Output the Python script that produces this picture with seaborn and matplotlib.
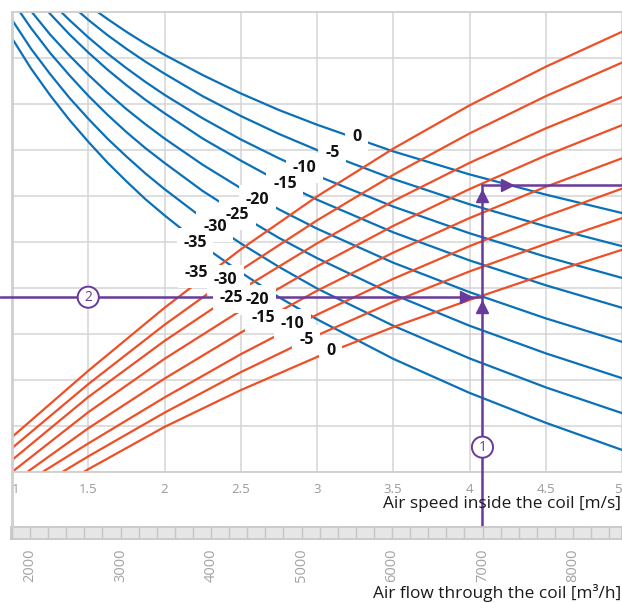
import numpy as np
import pandas as pd
import matplotlib
matplotlib.use("Agg")
import matplotlib.pyplot as plt
import seaborn as sns
from matplotlib.lines import Line2D

# ---- blue family (decreasing curves), read at these air speeds [m/s]
blue_speed = [1.0, 1.125, 1.25, 1.375, 1.5, 1.625, 1.75, 1.875, 2.0, 2.25, 2.5, 2.75,
              3.0, 3.5, 4.0, 4.5, 5.0]
blue_temps = [0, -5, -10, -15, -20, -25, -30, -35]
blue_0 = [11.67, 11.23, 10.83, 10.48, 10.15, 9.85, 9.57, 9.31, 9.07, 8.63, 8.23, 7.87,
          7.55, 6.97, 6.47, 6.03, 5.63]
blue_m5 = [11.49, 11.01, 10.58, 10.19, 9.83, 9.50, 9.20, 8.92, 8.66, 8.17, 7.74, 7.35,
           7.00, 6.37, 5.82, 5.34, 4.91]
blue_m10 = [11.21, 10.70, 10.24, 9.83, 9.45, 9.10, 8.78, 8.48, 8.20, 7.69, 7.23, 6.82,
            6.44, 5.77, 5.19, 4.68, 4.22]
blue_m15 = [10.99, 10.45, 9.96, 9.52, 9.12, 8.75, 8.41, 8.09, 7.80, 7.25, 6.77, 6.32,
            5.92, 5.21, 4.60, 4.06, 3.57]
blue_m20 = [10.59, 10.02, 9.51, 9.06, 8.64, 8.25, 7.89, 7.56, 7.25, 6.68, 6.17, 5.71,
            5.29, 4.55, 3.91, 3.34, 2.83]
blue_m25 = [10.25, 9.65, 9.11, 8.63, 8.18, 7.77, 7.39, 7.04, 6.72, 6.11, 5.58, 5.09,
            4.65, 3.86, 3.18, 2.58, 2.04]
blue_m30 = [9.83, 9.20, 8.65, 8.14, 7.68, 7.25, 6.86, 6.49, 6.15, 5.52, 4.97, 4.46,
            3.99, 3.18, 2.47, 1.84, 1.28]
blue_m35 = [9.43, 8.77, 8.19, 7.66, 7.18, 6.73, 6.32, 5.93, 5.58, 4.92, 4.34, 3.80,
            3.32, 2.46, 1.72, 1.07, 0.48]
blue_values = [blue_0, blue_m5, blue_m10, blue_m15, blue_m20, blue_m25, blue_m30, blue_m35]
blue_label_x = [3.26, 3.10, 2.92, 2.79, 2.61, 2.48, 2.33, 2.20]
blue_label_y = [7.28, 6.93, 6.61, 6.26, 5.91, 5.59, 5.33, 4.98]

# ---- red family (increasing curves)
red_temps = [-35, -30, -25, -20, -15, -10, -5, 0]
red_start_speed = [1.0, 1.0, 1.0, 1.0, 1.10, 1.20, 1.33, 1.47]
red_start_value = [0.76, 0.52, 0.26, 0.0, 0.0, 0.0, 0.0, 0.0]
red_speed = [1.5, 2.0, 2.5, 3.0, 3.5, 4.0, 4.5, 5.0]
red_m35 = [2.20, 3.57, 4.84, 5.99, 7.03, 7.97, 8.81, 9.57]
red_m30 = [1.91, 3.20, 4.39, 5.47, 6.46, 7.36, 8.17, 8.90]
red_m25 = [1.63, 2.85, 3.96, 4.97, 5.89, 6.72, 7.47, 8.15]
red_m20 = [1.30, 2.46, 3.51, 4.47, 5.35, 6.15, 6.88, 7.54]
red_m15 = [0.95, 2.03, 3.03, 3.94, 4.77, 5.52, 6.20, 6.82]
red_m10 = [0.62, 1.62, 2.56, 3.42, 4.20, 4.91, 5.56, 6.16]
red_m5 = [0.34, 1.29, 2.17, 2.97, 3.70, 4.36, 4.96, 5.52]
red_0 = [0.06, 0.98, 1.78, 2.50, 3.15, 3.74, 4.30, 4.83]
red_values = [red_m35, red_m30, red_m25, red_m20, red_m15, red_m10, red_m5, red_0]
red_label_x = [2.21, 2.40, 2.44, 2.61, 2.65, 2.84, 2.93, 3.09]
red_label_y = [4.33, 4.17, 3.78, 3.74, 3.35, 3.22, 2.87, 2.63]

# ---- air flow scale under the chart
speed_ticks = [1, 1.5, 2, 2.5, 3, 3.5, 4, 4.5, 5]
flow_ticks = [2000, 3000, 4000, 5000, 6000, 7000, 8000]
flow_ref = [2000, 7000]
speed_ref = [1.118, 4.085]
selected_flow = 7000
read_level = 3.80   # (2)
top_level = 6.24

BLUE = "#0a71b9"
RED = "#ef4f26"
PURPLE = "#673a9c"
GRID = "#d4d4d4"

sns.set_theme(style="white")
plt.rcParams["font.family"] = ["Open Sans", "DejaVu Sans"]

rows = []
for t, vals in zip(blue_temps, blue_values):
    for s, v in zip(blue_speed, vals):
        rows.append({"curve": f"b{t}", "speed": s, "value": v})
for t, s0, v0, vals in zip(red_temps, red_start_speed, red_start_value, red_values):
    rows.append({"curve": f"r{t}", "speed": s0, "value": v0})
    for s, v in zip(red_speed, vals):
        rows.append({"curve": f"r{t}", "speed": s, "value": v})
df = pd.DataFrame(rows)

fig = plt.figure(figsize=(6.22, 6.03), dpi=100)
ax = fig.add_axes([12 / 622, 131 / 603, 610 / 622, 460 / 603])

palette = {f"b{t}": BLUE for t in blue_temps}
palette.update({f"r{t}": RED for t in red_temps})
sns.lineplot(data=df, x="speed", y="value", hue="curve", palette=palette,
             estimator=None, sort=False, legend=False, lw=1.6, ax=ax, zorder=2)

# curve labels: white patches first, then the text on top of all patches
label_x = blue_label_x + red_label_x
label_y = blue_label_y + red_label_y
label_t = blue_temps + red_temps
for x, y, t in zip(label_x, label_y, label_t):
    ax.text(x, y, str(t), ha="center", va="center", fontsize=11.5, fontweight="bold",
            color="none", zorder=5,
            bbox=dict(boxstyle="square,pad=0.42", fc="white", ec="none"))
for x, y, t in zip(label_x, label_y, label_t):
    ax.text(x, y, str(t), ha="center", va="center", fontsize=11.5, fontweight="bold",
            color="#111111", zorder=6)

# reading example
sel_speed = np.interp(selected_flow, flow_ref, speed_ref)
x_left = 1 - 12 / 152.5
y_bottom = -55 / 46
ax.plot([x_left, sel_speed], [read_level, read_level], color=PURPLE, lw=1.8,
        clip_on=False, zorder=4)
ax.plot([sel_speed, sel_speed], [y_bottom, top_level], color=PURPLE, lw=1.8,
        clip_on=False, zorder=4)
ax.plot([sel_speed, 5], [top_level, top_level], color=PURPLE, lw=1.8, zorder=4)
ax.plot([sel_speed - 0.11], [read_level], marker=">", ms=9, color=PURPLE, zorder=4)
ax.plot([sel_speed], [read_level - 0.22], marker="^", ms=9, color=PURPLE, zorder=4)
ax.plot([sel_speed], [top_level - 0.24], marker="^", ms=9, color=PURPLE, zorder=4)
ax.plot([sel_speed + 0.16], [top_level], marker=">", ms=9, color=PURPLE, zorder=4)
for x, y, s in [(sel_speed, 0.54, "1"), (1.5, read_level, "2")]:
    ax.text(x, y, s, ha="center", va="center", fontsize=10, color=PURPLE, zorder=7,
            bbox=dict(boxstyle="circle,pad=0.22", fc="white", ec=PURPLE, lw=1.4))

ax.set_xlim(1, 5)
ax.set_ylim(0, 10)
ax.set_xticks(speed_ticks)
ax.set_xticklabels([f"{v:g}" for v in speed_ticks], color="#9a9a9a", fontsize=9.5)
ax.get_xticklabels()[0].set_ha("left")
ax.get_xticklabels()[-1].set_ha("right")
ax.set_yticks(range(11))
ax.set_yticklabels([])
ax.tick_params(length=0, pad=8)
ax.grid(True, color=GRID, lw=1.1, zorder=0)
ax.set_axisbelow(True)
ax.set_xlabel("")
ax.set_ylabel("")
for side in ["top", "bottom", "left"]:
    ax.spines[side].set_color("#cfcfcf")
    ax.spines[side].set_linewidth(1.3)
ax.spines["left"].set_linewidth(2)
ax.spines["right"].set_visible(False)

fig.add_artist(Line2D([12 / 622, 12 / 622], [1 - 472 / 603, 1 - 527 / 603],
                      color="#cfcfcf", lw=2, transform=fig.transFigure))
fig.text(621 / 622, 1 - 504 / 603, "Air speed inside the coil [m/s]", ha="right",
         va="center", fontsize=12.4, color="#1a1a1a")

# air flow strip
ax2 = fig.add_axes([11 / 622, 64 / 603, 611 / 622, 12 / 603])
ax2.set_facecolor("#e6e6e7")
ax2.set_xlim(1790, 8541)
ax2.set_ylim(0, 1)
ax2.vlines(np.arange(1800, 8541, 200), 0, 1, color="#c6c6c6", lw=1)
ax2.set_xticks(flow_ticks)
ax2.set_xticklabels([str(v) for v in flow_ticks], rotation=90, color="#a3a3a3",
                    fontsize=10.5, va="top")
ax2.set_yticks([])
ax2.tick_params(length=0, pad=7)
for sp in ax2.spines.values():
    sp.set_color("#c6c6c6")
fig.text(621.5 / 622, 1 - 593 / 603, "Air flow through the coil [m³/h]", ha="right",
         va="center", fontsize=12.4, color="#1a1a1a")

fig.savefig("out.png", dpi=100)
